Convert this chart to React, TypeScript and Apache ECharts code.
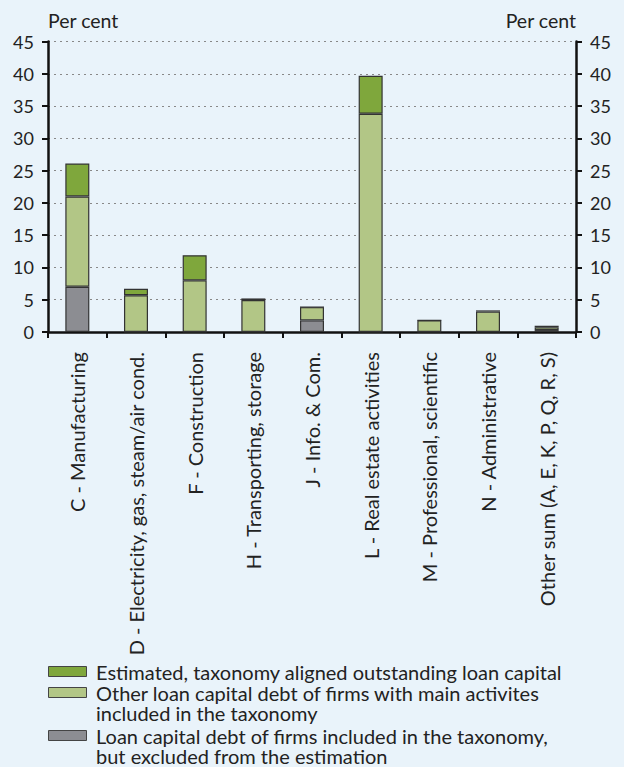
import React, { useEffect, useRef } from "react";
import * as echarts from "echarts";

const categories = [
  "C - Manufacturing",
  "D - Electricity, gas, steam/air cond.",
  "F - Construction",
  "H - Transporting, storage",
  "J - Info. & Com.",
  "L - Real estate activities",
  "M - Professional, scientific",
  "N - Administrative",
  "Other sum (A, E, K, P, Q, R, S)",
];

const excludedValues = [7.0, 0, 0, 0, 1.8, 0, 0, 0, 0.3];
const otherValues = [14.0, 5.7, 8.0, 4.95, 2.05, 33.8, 1.8, 3.15, 0.45];
const alignedValues = [5.1, 1.0, 3.9, 0.25, 0, 5.9, 0, 0.2, 0.22];

const seriesNames = [
  "Estimated, taxonomy aligned outstanding loan capital",
  "Other loan capital debt of firms with main activites\nincluded in the taxonomy",
  "Loan capital debt of firms included in the taxonomy,\nbut excluded from the estimation",
];
const seriesColors = ["#7fa73c", "#b2c686", "#8c8d92"];

const yTicks = { min: 0, max: 45, interval: 5 };
const FONT = "Lato, 'Open Sans', sans-serif";

export default function App() {
  const ref = useRef<HTMLDivElement>(null);
  useEffect(() => {
    if (!ref.current) return;
    const chart = echarts.init(ref.current, null, { renderer: "svg" });
    const yAxisBase = (pos: "left" | "right") => ({
      type: "value",
      position: pos,
      min: yTicks.min,
      max: yTicks.max,
      interval: yTicks.interval,
      name: "Per cent",
      nameLocation: "end",
      nameGap: 11,
      nameTextStyle: {
        color: "#222",
        fontSize: 19.5,
        fontFamily: FONT,
        align: pos === "left" ? "left" : "right",
        padding: pos === "left" ? [0, 0, 0, 0] : [0, 0, 0, 0],
      },
      axisLine: { show: true, lineStyle: { color: "#111", width: 2.5 } },
      axisTick: { show: true, length: 6, lineStyle: { color: "#111", width: 2 } },
      axisLabel: {
        color: "#222",
        fontSize: 18,
        fontFamily: FONT,
        margin: 14,
      },
      splitLine: {
        show: pos === "left",
        lineStyle: { color: "#888", type: [2, 4], width: 1 },
      },
    });
    const barBase = {
      type: "bar",
      stack: "total",
      barWidth: 24,
      itemStyle: { borderColor: "#333", borderWidth: 1.2 },
    };
    const legendItems = [0, 1, 2];
    const legendTops = [661.5, 682.5, 725.5];
    chart.setOption({
      animation: false,
      backgroundColor: "#e9f3fa",
      grid: { left: 48, right: 48, top: 41.5, bottom: 435 },
      xAxis: {
        type: "category",
        data: categories,
        axisLine: { lineStyle: { color: "#111", width: 2.5 } },
        axisTick: { show: true, length: 6, lineStyle: { color: "#111", width: 2 } },
        axisLabel: {
          rotate: 90,
          interval: 0,
          color: "#222",
          fontSize: 20,
          fontFamily: FONT,
          margin: 20,
        },
      },
      yAxis: [yAxisBase("left"), yAxisBase("right")],
      series: [
        { ...barBase, name: seriesNames[2], data: excludedValues, itemStyle: { ...barBase.itemStyle, color: seriesColors[2] } },
        { ...barBase, name: seriesNames[1], data: otherValues, itemStyle: { ...barBase.itemStyle, color: seriesColors[1] } },
        { ...barBase, name: seriesNames[0], data: alignedValues, itemStyle: { ...barBase.itemStyle, color: seriesColors[0] } },
      ],
      graphic: legendItems.flatMap((i) => [
        {
          type: "rect",
          left: 48,
          top: legendTops[i] + 4.5,
          shape: { width: 38, height: 10 },
          style: { fill: seriesColors[i], stroke: "#444", lineWidth: 1 },
        },
        {
          type: "text",
          left: 96,
          top: legendTops[i],
          style: {
            text: seriesNames[i],
            fill: "#222",
            fontSize: 20,
            fontFamily: FONT,
            lineHeight: 20.5,
          },
        },
      ]),
    });
    return () => chart.dispose();
  }, []);
  return (
    <div
      ref={ref}
      style={{ position: "fixed", left: 0, top: 0, width: 624, height: 767 }}
    />
  );
}
